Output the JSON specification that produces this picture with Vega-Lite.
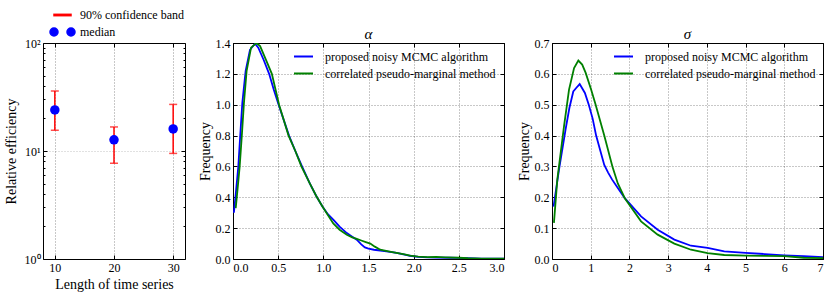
{
  "$schema": "https://vega.github.io/schema/vega-lite/v6.json",
  "padding": {"left": 3, "top": 8, "right": 5, "bottom": 2},
  "spacing": 48,
  "bounds": "flush",
  "resolve": {"scale": {"x": "independent", "y": "independent", "color": "independent"}, "legend": {"color": "independent"}},
  "datasets": {
    "eff": [
      {"len": 10, "median": 24, "lo": 15.6, "hi": 36},
      {"len": 20, "median": 12.7, "lo": 7.7, "hi": 16.7},
      {"len": 30, "median": 16, "lo": 9.5, "hi": 27}
    ],
    "alpha": [
      {"x": 0.01, "f": 0.30, "method": "proposed noisy MCMC algorithm"},
      {"x": 0.035, "f": 0.45, "method": "proposed noisy MCMC algorithm"},
      {"x": 0.059, "f": 0.60, "method": "proposed noisy MCMC algorithm"},
      {"x": 0.08, "f": 0.80, "method": "proposed noisy MCMC algorithm"},
      {"x": 0.103, "f": 1.01, "method": "proposed noisy MCMC algorithm"},
      {"x": 0.14, "f": 1.22, "method": "proposed noisy MCMC algorithm"},
      {"x": 0.188, "f": 1.356, "method": "proposed noisy MCMC algorithm"},
      {"x": 0.244, "f": 1.395, "method": "proposed noisy MCMC algorithm"},
      {"x": 0.28, "f": 1.37, "method": "proposed noisy MCMC algorithm"},
      {"x": 0.34, "f": 1.29, "method": "proposed noisy MCMC algorithm"},
      {"x": 0.40, "f": 1.20, "method": "proposed noisy MCMC algorithm"},
      {"x": 0.45, "f": 1.10, "method": "proposed noisy MCMC algorithm"},
      {"x": 0.505, "f": 1.00, "method": "proposed noisy MCMC algorithm"},
      {"x": 0.62, "f": 0.80, "method": "proposed noisy MCMC algorithm"},
      {"x": 0.69, "f": 0.70, "method": "proposed noisy MCMC algorithm"},
      {"x": 0.764, "f": 0.60, "method": "proposed noisy MCMC algorithm"},
      {"x": 0.85, "f": 0.49, "method": "proposed noisy MCMC algorithm"},
      {"x": 0.92, "f": 0.41, "method": "proposed noisy MCMC algorithm"},
      {"x": 0.99, "f": 0.34, "method": "proposed noisy MCMC algorithm"},
      {"x": 1.05, "f": 0.29, "method": "proposed noisy MCMC algorithm"},
      {"x": 1.11, "f": 0.255, "method": "proposed noisy MCMC algorithm"},
      {"x": 1.18, "f": 0.21, "method": "proposed noisy MCMC algorithm"},
      {"x": 1.26, "f": 0.168, "method": "proposed noisy MCMC algorithm"},
      {"x": 1.32, "f": 0.145, "method": "proposed noisy MCMC algorithm"},
      {"x": 1.37, "f": 0.125, "method": "proposed noisy MCMC algorithm"},
      {"x": 1.42, "f": 0.095, "method": "proposed noisy MCMC algorithm"},
      {"x": 1.46, "f": 0.075, "method": "proposed noisy MCMC algorithm"},
      {"x": 1.50, "f": 0.067, "method": "proposed noisy MCMC algorithm"},
      {"x": 1.56, "f": 0.06, "method": "proposed noisy MCMC algorithm"},
      {"x": 1.63, "f": 0.055, "method": "proposed noisy MCMC algorithm"},
      {"x": 1.72, "f": 0.048, "method": "proposed noisy MCMC algorithm"},
      {"x": 1.81, "f": 0.039, "method": "proposed noisy MCMC algorithm"},
      {"x": 1.90, "f": 0.028, "method": "proposed noisy MCMC algorithm"},
      {"x": 1.96, "f": 0.021, "method": "proposed noisy MCMC algorithm"},
      {"x": 2.05, "f": 0.014, "method": "proposed noisy MCMC algorithm"},
      {"x": 2.15, "f": 0.010, "method": "proposed noisy MCMC algorithm"},
      {"x": 2.25, "f": 0.009, "method": "proposed noisy MCMC algorithm"},
      {"x": 2.4, "f": 0.008, "method": "proposed noisy MCMC algorithm"},
      {"x": 2.5, "f": 0.007, "method": "proposed noisy MCMC algorithm"},
      {"x": 2.6, "f": 0.005, "method": "proposed noisy MCMC algorithm"},
      {"x": 2.75, "f": 0.003, "method": "proposed noisy MCMC algorithm"},
      {"x": 3.0, "f": 0.002, "method": "proposed noisy MCMC algorithm"},
      {"x": 0.03, "f": 0.33, "method": "correlated pseudo-marginal method"},
      {"x": 0.05, "f": 0.45, "method": "correlated pseudo-marginal method"},
      {"x": 0.074, "f": 0.60, "method": "correlated pseudo-marginal method"},
      {"x": 0.10, "f": 0.82, "method": "correlated pseudo-marginal method"},
      {"x": 0.121, "f": 1.01, "method": "correlated pseudo-marginal method"},
      {"x": 0.151, "f": 1.22, "method": "correlated pseudo-marginal method"},
      {"x": 0.20, "f": 1.37, "method": "correlated pseudo-marginal method"},
      {"x": 0.26, "f": 1.40, "method": "correlated pseudo-marginal method"},
      {"x": 0.30, "f": 1.38, "method": "correlated pseudo-marginal method"},
      {"x": 0.365, "f": 1.29, "method": "correlated pseudo-marginal method"},
      {"x": 0.43, "f": 1.20, "method": "correlated pseudo-marginal method"},
      {"x": 0.47, "f": 1.10, "method": "correlated pseudo-marginal method"},
      {"x": 0.51, "f": 1.00, "method": "correlated pseudo-marginal method"},
      {"x": 0.615, "f": 0.80, "method": "correlated pseudo-marginal method"},
      {"x": 0.69, "f": 0.70, "method": "correlated pseudo-marginal method"},
      {"x": 0.757, "f": 0.60, "method": "correlated pseudo-marginal method"},
      {"x": 0.85, "f": 0.49, "method": "correlated pseudo-marginal method"},
      {"x": 0.92, "f": 0.41, "method": "correlated pseudo-marginal method"},
      {"x": 0.99, "f": 0.34, "method": "correlated pseudo-marginal method"},
      {"x": 1.05, "f": 0.285, "method": "correlated pseudo-marginal method"},
      {"x": 1.11, "f": 0.23, "method": "correlated pseudo-marginal method"},
      {"x": 1.18, "f": 0.19, "method": "correlated pseudo-marginal method"},
      {"x": 1.26, "f": 0.157, "method": "correlated pseudo-marginal method"},
      {"x": 1.32, "f": 0.14, "method": "correlated pseudo-marginal method"},
      {"x": 1.37, "f": 0.13, "method": "correlated pseudo-marginal method"},
      {"x": 1.42, "f": 0.12, "method": "correlated pseudo-marginal method"},
      {"x": 1.47, "f": 0.11, "method": "correlated pseudo-marginal method"},
      {"x": 1.52, "f": 0.10, "method": "correlated pseudo-marginal method"},
      {"x": 1.57, "f": 0.08, "method": "correlated pseudo-marginal method"},
      {"x": 1.63, "f": 0.06, "method": "correlated pseudo-marginal method"},
      {"x": 1.72, "f": 0.05, "method": "correlated pseudo-marginal method"},
      {"x": 1.81, "f": 0.04, "method": "correlated pseudo-marginal method"},
      {"x": 1.90, "f": 0.03, "method": "correlated pseudo-marginal method"},
      {"x": 1.96, "f": 0.022, "method": "correlated pseudo-marginal method"},
      {"x": 2.05, "f": 0.015, "method": "correlated pseudo-marginal method"},
      {"x": 2.15, "f": 0.012, "method": "correlated pseudo-marginal method"},
      {"x": 2.25, "f": 0.014, "method": "correlated pseudo-marginal method"},
      {"x": 2.35, "f": 0.011, "method": "correlated pseudo-marginal method"},
      {"x": 2.5, "f": 0.008, "method": "correlated pseudo-marginal method"},
      {"x": 2.6, "f": 0.005, "method": "correlated pseudo-marginal method"},
      {"x": 2.75, "f": 0.003, "method": "correlated pseudo-marginal method"},
      {"x": 3.0, "f": 0.002, "method": "correlated pseudo-marginal method"}
    ],
    "sigma": [
      {"x": 0.04, "f": 0.17, "method": "proposed noisy MCMC algorithm"},
      {"x": 0.18, "f": 0.289, "method": "proposed noisy MCMC algorithm"},
      {"x": 0.35, "f": 0.419, "method": "proposed noisy MCMC algorithm"},
      {"x": 0.45, "f": 0.49, "method": "proposed noisy MCMC algorithm"},
      {"x": 0.55, "f": 0.543, "method": "proposed noisy MCMC algorithm"},
      {"x": 0.63, "f": 0.555, "method": "proposed noisy MCMC algorithm"},
      {"x": 0.715, "f": 0.567, "method": "proposed noisy MCMC algorithm"},
      {"x": 0.85, "f": 0.538, "method": "proposed noisy MCMC algorithm"},
      {"x": 0.95, "f": 0.50, "method": "proposed noisy MCMC algorithm"},
      {"x": 1.05, "f": 0.455, "method": "proposed noisy MCMC algorithm"},
      {"x": 1.14, "f": 0.40, "method": "proposed noisy MCMC algorithm"},
      {"x": 1.25, "f": 0.35, "method": "proposed noisy MCMC algorithm"},
      {"x": 1.35, "f": 0.305, "method": "proposed noisy MCMC algorithm"},
      {"x": 1.45, "f": 0.28, "method": "proposed noisy MCMC algorithm"},
      {"x": 1.55, "f": 0.258, "method": "proposed noisy MCMC algorithm"},
      {"x": 1.70, "f": 0.23, "method": "proposed noisy MCMC algorithm"},
      {"x": 1.88, "f": 0.197, "method": "proposed noisy MCMC algorithm"},
      {"x": 2.30, "f": 0.138, "method": "proposed noisy MCMC algorithm"},
      {"x": 2.73, "f": 0.095, "method": "proposed noisy MCMC algorithm"},
      {"x": 3.16, "f": 0.063, "method": "proposed noisy MCMC algorithm"},
      {"x": 3.59, "f": 0.043, "method": "proposed noisy MCMC algorithm"},
      {"x": 4.02, "f": 0.036, "method": "proposed noisy MCMC algorithm"},
      {"x": 4.45, "f": 0.025, "method": "proposed noisy MCMC algorithm"},
      {"x": 5.0, "f": 0.02, "method": "proposed noisy MCMC algorithm"},
      {"x": 5.5, "f": 0.016, "method": "proposed noisy MCMC algorithm"},
      {"x": 6.0, "f": 0.012, "method": "proposed noisy MCMC algorithm"},
      {"x": 6.5, "f": 0.009, "method": "proposed noisy MCMC algorithm"},
      {"x": 7.0, "f": 0.006, "method": "proposed noisy MCMC algorithm"},
      {"x": 0.05, "f": 0.117, "method": "correlated pseudo-marginal method"},
      {"x": 0.137, "f": 0.257, "method": "correlated pseudo-marginal method"},
      {"x": 0.31, "f": 0.43, "method": "correlated pseudo-marginal method"},
      {"x": 0.44, "f": 0.549, "method": "correlated pseudo-marginal method"},
      {"x": 0.57, "f": 0.619, "method": "correlated pseudo-marginal method"},
      {"x": 0.68, "f": 0.643, "method": "correlated pseudo-marginal method"},
      {"x": 0.78, "f": 0.63, "method": "correlated pseudo-marginal method"},
      {"x": 0.87, "f": 0.603, "method": "correlated pseudo-marginal method"},
      {"x": 1.01, "f": 0.549, "method": "correlated pseudo-marginal method"},
      {"x": 1.12, "f": 0.503, "method": "correlated pseudo-marginal method"},
      {"x": 1.35, "f": 0.40, "method": "correlated pseudo-marginal method"},
      {"x": 1.56, "f": 0.30, "method": "correlated pseudo-marginal method"},
      {"x": 1.70, "f": 0.245, "method": "correlated pseudo-marginal method"},
      {"x": 1.88, "f": 0.197, "method": "correlated pseudo-marginal method"},
      {"x": 2.30, "f": 0.122, "method": "correlated pseudo-marginal method"},
      {"x": 2.73, "f": 0.079, "method": "correlated pseudo-marginal method"},
      {"x": 3.16, "f": 0.05, "method": "correlated pseudo-marginal method"},
      {"x": 3.59, "f": 0.030, "method": "correlated pseudo-marginal method"},
      {"x": 4.02, "f": 0.019, "method": "correlated pseudo-marginal method"},
      {"x": 4.45, "f": 0.013, "method": "correlated pseudo-marginal method"},
      {"x": 5.0, "f": 0.011, "method": "correlated pseudo-marginal method"},
      {"x": 5.5, "f": 0.010, "method": "correlated pseudo-marginal method"},
      {"x": 6.0, "f": 0.009, "method": "correlated pseudo-marginal method"},
      {"x": 6.5, "f": 0.004, "method": "correlated pseudo-marginal method"},
      {"x": 7.0, "f": 0.003, "method": "correlated pseudo-marginal method"}
    ]
  },
  "hconcat": [
    {
      "width": 142,
      "height": 216,
      "data": {"name": "eff"},
      "resolve": {"axis": {"x": "independent", "y": "independent"}},
      "layer": [
        {
          "mark": {"type": "rule", "strokeWidth": 1.5},
          "encoding": {
            "x": {"field": "len", "type": "quantitative", "scale": {"domain": [8, 32]},
                  "axis": {"values": [10, 20, 30], "title": "Length of time series", "titlePadding": 4}},
            "y": {"field": "lo", "type": "quantitative", "scale": {"type": "log", "domain": [1, 100]},
                  "axis": {"values": [1, 2, 3, 4, 5, 6, 7, 8, 9, 10, 20, 30, 40, 50, 60, 70, 80, 90, 100],
                           "labelExpr": "datum.value == 1 ? '10⁰' : datum.value == 10 ? '10¹' : datum.value == 100 ? '10²' : ''",
                           "gridOpacity": {"condition": {"test": "datum.value == 10", "value": 0.55}, "value": 0},
                           "tickSize": {"condition": {"test": "datum.value == 1 || datum.value == 10 || datum.value == 100", "value": -4}, "value": -2},
                           "title": "Relative efficiency", "titlePadding": 6}},
            "y2": {"field": "hi"},
            "color": {"datum": "90% confidence band", "type": "nominal",
                      "scale": {"domain": ["90% confidence band", "median"], "range": ["#ff0000", "#0000ff"]},
                      "legend": {"orient": "none", "legendX": 13.5, "legendY": -34, "title": null, "padding": 0,
                                 "symbolSize": 64, "labelOffset": 11.5, "rowPadding": 4, "labelFontSize": 12, "labelLimit": 0,
                                 "encode": {"symbols": {"update": {
                                   "shape": {"signal": "datum.value === 'median' ? 'M-3.125,0A1,1,0,1,1,-1.125,0A1,1,0,1,1,-3.125,0ZM1.125,0A1,1,0,1,1,3.125,0A1,1,0,1,1,1.125,0Z' : 'M-2.125,-0.17L2.125,-0.17L2.125,0.17L-2.125,0.17Z'"},
                                   "fill": {"signal": "datum.value === 'median' ? '#0000ff' : '#ff0000'"},
                                   "stroke": {"value": "transparent"},
                                   "opacity": {"value": 1},
                                   "fillOpacity": {"value": 1}
                                 }}}}}
          }
        },
        {
          "mark": {"type": "tick", "orient": "horizontal", "size": 8, "thickness": 1.5},
          "encoding": {
            "x": {"field": "len", "type": "quantitative", "axis": null},
            "y": {"field": "lo", "type": "quantitative", "axis": null},
            "color": {"datum": "90% confidence band", "type": "nominal"}
          }
        },
        {
          "mark": {"type": "tick", "orient": "horizontal", "size": 8, "thickness": 1.5},
          "encoding": {
            "x": {"field": "len", "type": "quantitative", "axis": null},
            "y": {"field": "hi", "type": "quantitative", "axis": null},
            "color": {"datum": "90% confidence band", "type": "nominal"}
          }
        },
        {
          "mark": {"type": "point", "filled": true, "size": 90, "opacity": 1},
          "encoding": {
            "x": {"field": "len", "type": "quantitative", "axis": null},
            "y": {"field": "median", "type": "quantitative", "axis": null},
            "color": {"datum": "median", "type": "nominal"}
          }
        },
        {
          "mark": {"type": "point", "opacity": 0},
          "encoding": {
            "x": {"field": "len", "type": "quantitative",
                  "axis": {"orient": "top", "values": [10, 20, 30], "labels": false, "grid": false, "title": null}},
            "y": {"field": "median", "type": "quantitative",
                  "axis": {"orient": "right", "values": [1, 2, 3, 4, 5, 6, 7, 8, 9, 10, 20, 30, 40, 50, 60, 70, 80, 90, 100],
                           "labels": false, "grid": false, "title": null,
                           "tickSize": {"condition": {"test": "datum.value == 1 || datum.value == 10 || datum.value == 100", "value": -4}, "value": -2}}}
          }
        }
      ]
    },
    {
      "width": 271,
      "height": 216,
      "title": {"text": "α", "fontStyle": "italic", "fontSize": 15, "fontWeight": "normal", "offset": -5},
      "data": {"name": "alpha"},
      "resolve": {"axis": {"x": "independent", "y": "independent"}},
      "layer": [
        {
          "mark": {"type": "line", "strokeWidth": 1.8, "clip": true},
          "encoding": {
            "x": {"field": "x", "type": "quantitative", "scale": {"domain": [0, 3]},
                  "axis": {"values": [0, 0.5, 1, 1.5, 2, 2.5, 3], "format": ".1f", "title": null}},
            "y": {"field": "f", "type": "quantitative", "scale": {"domain": [0, 1.4]},
                  "axis": {"values": [0, 0.2, 0.4, 0.6, 0.8, 1.0, 1.2, 1.4], "format": ".1f", "title": "Frequency", "titlePadding": 3}},
            "order": {"field": "x", "type": "quantitative"},
            "color": {"field": "method", "type": "nominal",
                      "scale": {"domain": ["proposed noisy MCMC algorithm", "correlated pseudo-marginal method"], "range": ["#0000ff", "#008000"]},
                      "legend": {"orient": "none", "legendX": 60, "legendY": 3, "title": null, "padding": 0,
                                 "symbolType": "stroke", "symbolSize": 361, "symbolStrokeWidth": 2, "labelOffset": 11,
                                 "rowPadding": 0, "labelFontSize": 12, "labelLimit": 0}}
          }
        },
        {
          "mark": {"type": "point", "opacity": 0},
          "encoding": {
            "x": {"field": "x", "type": "quantitative",
                  "axis": {"orient": "top", "values": [0, 0.5, 1, 1.5, 2, 2.5, 3], "labels": false, "grid": false, "title": null}},
            "y": {"field": "f", "type": "quantitative",
                  "axis": {"orient": "right", "values": [0, 0.2, 0.4, 0.6, 0.8, 1.0, 1.2, 1.4], "labels": false, "grid": false, "title": null}}
          }
        }
      ]
    },
    {
      "width": 271,
      "height": 216,
      "title": {"text": "σ", "fontStyle": "italic", "fontSize": 15, "fontWeight": "normal", "offset": -5},
      "data": {"name": "sigma"},
      "resolve": {"axis": {"x": "independent", "y": "independent"}},
      "layer": [
        {
          "mark": {"type": "line", "strokeWidth": 1.8, "clip": true},
          "encoding": {
            "x": {"field": "x", "type": "quantitative", "scale": {"domain": [0, 7]},
                  "axis": {"values": [0, 1, 2, 3, 4, 5, 6, 7], "title": null}},
            "y": {"field": "f", "type": "quantitative", "scale": {"domain": [0, 0.7]},
                  "axis": {"values": [0, 0.1, 0.2, 0.3, 0.4, 0.5, 0.6, 0.7], "format": ".1f", "title": "Frequency", "titlePadding": 3}},
            "order": {"field": "x", "type": "quantitative"},
            "color": {"field": "method", "type": "nominal",
                      "scale": {"domain": ["proposed noisy MCMC algorithm", "correlated pseudo-marginal method"], "range": ["#0000ff", "#008000"]},
                      "legend": {"orient": "none", "legendX": 61, "legendY": 3, "title": null, "padding": 0,
                                 "symbolType": "stroke", "symbolSize": 361, "symbolStrokeWidth": 2, "labelOffset": 11,
                                 "rowPadding": 0, "labelFontSize": 12, "labelLimit": 0}}
          }
        },
        {
          "mark": {"type": "point", "opacity": 0},
          "encoding": {
            "x": {"field": "x", "type": "quantitative",
                  "axis": {"orient": "top", "values": [0, 1, 2, 3, 4, 5, 6, 7], "labels": false, "grid": false, "title": null}},
            "y": {"field": "f", "type": "quantitative",
                  "axis": {"orient": "right", "values": [0, 0.1, 0.2, 0.3, 0.4, 0.5, 0.6, 0.7], "labels": false, "grid": false, "title": null}}
          }
        }
      ]
    }
  ],
  "config": {
    "font": "Liberation Serif",
    "view": {"stroke": "#000000", "strokeWidth": 1},
    "title": {"font": "Liberation Serif", "color": "#000000"},
    "axis": {
      "labelFont": "Liberation Serif", "labelFontSize": 12, "labelColor": "#000000",
      "titleFont": "Liberation Serif", "titleFontSize": 14, "titleFontWeight": "normal", "titleColor": "#000000",
      "grid": true, "gridColor": "#000000", "gridOpacity": 0.55, "gridDash": [1, 2], "gridWidth": 0.8,
      "domain": false, "ticks": true, "tickSize": -4, "tickColor": "#000000", "tickWidth": 1, "labelPadding": 7
    },
    "legend": {"labelFont": "Liberation Serif", "labelFontSize": 12, "labelColor": "#000000"}
  }
}
